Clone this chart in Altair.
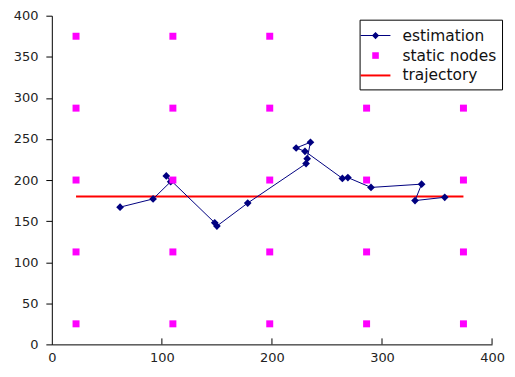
import altair as alt
import pandas as pd

# Estimation path (in drawing order)
est_x = [62, 92, 108, 104, 148, 150, 178, 231, 232, 235, 222, 230, 264, 269, 290, 336, 330, 357]
est_y = [167, 177, 198, 205, 148, 144, 172, 220, 226, 246, 239, 235, 202, 203, 191, 195, 175, 179]

# Static nodes grid
node_x_vals = [22, 110, 198, 286, 374]
node_y_vals = [25, 112.5, 200, 287.5, 375]

# Trajectory
traj_x = [22, 374]
traj_y = [180, 180]

series_names = ["estimation", "static nodes", "trajectory"]
series_colors = ["#000080", "#FF00FF", "#FF0000"]
series_symbols = [
    "M-1.36,-0.045H1.36V0.045H-1.36Z M-0.33,0L0,-0.33L0.33,0L0,0.33Z",
    "M-0.3,-0.3H0.3V0.3H-0.3Z",
    "M-1.36,-0.09H1.36V0.09H-1.36Z",
]

est_df = pd.DataFrame({"x": est_x, "y": est_y, "order": list(range(len(est_x)))})
nodes_df = pd.DataFrame([{"x": nx, "y": ny} for nx in node_x_vals for ny in node_y_vals])
traj_df = pd.DataFrame({"x": traj_x, "y": traj_y})
xticks_df = pd.DataFrame({"x": [100, 200, 300, 400]})
legend_df = pd.DataFrame({"series": series_names, "x": [None] * 3, "y": [None] * 3})

FONT = "DejaVu Sans"

xscale = alt.Scale(domain=[0, 400], nice=False)
yscale = alt.Scale(domain=[0, 400], nice=False)

xaxis = alt.Axis(values=[0, 100, 200, 300, 400], tickSize=0, labelPadding=7,
                 labelFlush=False, grid=False, domainColor="#000000", labelColor="#222222",
                 labelFont=FONT, labelFontSize=13, title=None)
yaxis = alt.Axis(values=[0, 50, 100, 150, 200, 250, 300, 350, 400], tickSize=6,
                 labelPadding=8, labelFlush=False, grid=False, domainColor="#000000",
                 tickColor="#000000", labelColor="#222222", labelFont=FONT,
                 labelFontSize=13, title=None)

legend = alt.Legend(
    title=None, orient="none", legendX=309, legendY=4,
    strokeColor="#000000", fillColor="#FFFFFF", padding=5,
    labelFont=FONT, labelFontSize=15.5, labelColor="#111111", labelOffset=16,
    symbolSize=484, symbolStrokeWidth=0, symbolOpacity=1, rowPadding=0,
)

traj = alt.Chart(traj_df).mark_line(strokeWidth=2, color="#FF0000").encode(
    x=alt.X("x:Q", scale=xscale, axis=xaxis),
    y=alt.Y("y:Q", scale=yscale, axis=yaxis),
)

nodes = alt.Chart(nodes_df).mark_point(shape="square", filled=True, size=49, opacity=1,
                                       color="#FF00FF").encode(
    x=alt.X("x:Q", scale=xscale),
    y=alt.Y("y:Q", scale=yscale),
)

est_line = alt.Chart(est_df).mark_line(strokeWidth=1, color="#000080").encode(
    x=alt.X("x:Q", scale=xscale),
    y=alt.Y("y:Q", scale=yscale),
    order="order:Q",
)

est_pts = alt.Chart(est_df).mark_point(shape="diamond", filled=True, size=60, opacity=1,
                                       color="#000080").encode(
    x=alt.X("x:Q", scale=xscale),
    y=alt.Y("y:Q", scale=yscale),
)

xticks = alt.Chart(xticks_df).mark_rule(color="#000000", strokeWidth=1).encode(
    x=alt.X("x:Q", scale=xscale),
    y=alt.value(324),
    y2=alt.value(330),
)

legend_layer = alt.Chart(legend_df).mark_point(filled=True, opacity=1).encode(
    x=alt.X("x:Q", scale=xscale),
    y=alt.Y("y:Q", scale=yscale),
    color=alt.Color("series:N", scale=alt.Scale(domain=series_names, range=series_colors),
                    legend=legend),
    shape=alt.Shape("series:N", scale=alt.Scale(domain=series_names, range=series_symbols),
                    legend=legend),
)

chart = alt.layer(traj, est_line, est_pts, nodes, xticks, legend_layer).properties(
    width=442, height=330,
    autosize=alt.AutoSizeParams(type="none"),
    padding={"left": 44, "top": 7, "right": 15, "bottom": 25},
    background="#FFFFFF",
).configure_view(stroke=None)

chart.save("out.html", embed_options={"renderer": "svg", "actions": False})
